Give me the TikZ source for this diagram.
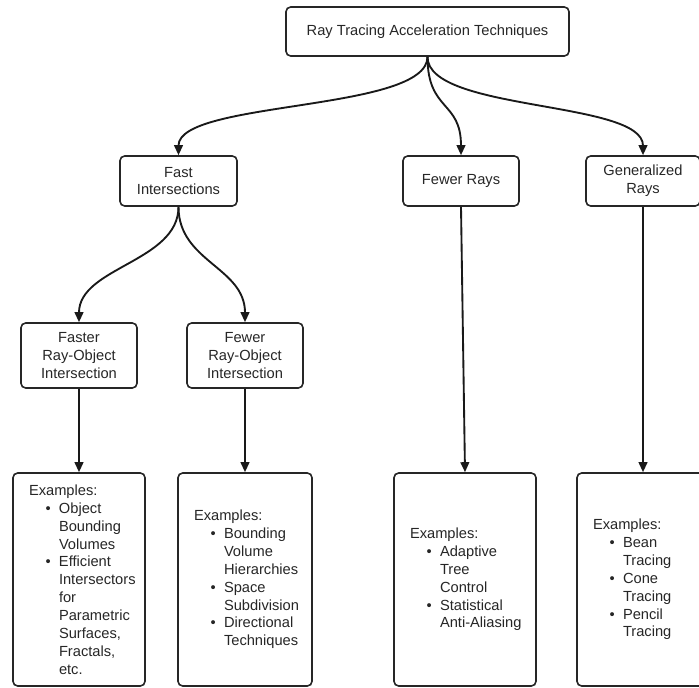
\documentclass[tikz,border=0pt]{standalone}
\usepackage{fontspec}
\setmainfont{Liberation Sans}
\usetikzlibrary{arrows.meta}

\newcommand{\bitem}[1]{\hspace*{12.5pt}\makebox[10pt][l]{\textbullet}\mbox{#1}}
\newcommand{\bnext}[1]{\hspace*{22.5pt}\mbox{#1}}

\begin{document}
\begin{tikzpicture}[x=0.75pt, y=-0.75pt,
  box/.style={draw=black!85, line width=1.2pt, rounded corners=3.5pt, align=center,
    text=black!85, font=\fontsize{11}{13.4}\selectfont, inner sep=2pt},
  exbox/.style={box, align=left, inner xsep=12pt, minimum height=159.75pt},
  arr/.style={line width=1.4pt, draw=black!90, -{Triangle[length=7.5pt,width=6.5pt]}}]

\useasboundingbox (0,0) rectangle (699,688);
\clip (0,0) rectangle (699,688);

% Top level
\node[box, minimum width=212.25pt, minimum height=36.75pt] (root) at (427.5,31.5) {Ray Tracing Acceleration Techniques};

% Second level
\node[box, minimum width=87.75pt, minimum height=37.5pt] (fast) at (178.5,181) {Fast\\Intersections};
\node[box, minimum width=87pt, minimum height=37.5pt] (fewrays) at (461,181) {Fewer Rays};
\node[box, minimum width=85.5pt, minimum height=37.5pt] (genrays) at (643,181) {Generalized\\Rays};

% Third level
\node[box, minimum width=87pt, minimum height=48.75pt] (fasterro) at (79,355.5) {Faster\\Ray-Object\\Intersection};
\node[box, minimum width=87pt, minimum height=48.75pt] (fewerro) at (245,355.5) {Fewer\\Ray-Object\\Intersection};

% Examples
\node[exbox, text width=75pt] (ex1) at (79,579.5) {Examples:\\
  \bitem{Object}\\ \bnext{Bounding}\\ \bnext{Volumes}\\
  \bitem{Efficient}\\ \bnext{Intersectors}\\ \bnext{for}\\ \bnext{Parametric}\\
  \bnext{Surfaces,}\\ \bnext{Fractals,}\\ \bnext{etc.}};
\node[exbox, text width=76.5pt] (ex2) at (245,579.5) {Examples:\\
  \bitem{Bounding}\\ \bnext{Volume}\\ \bnext{Hierarchies}\\
  \bitem{Space}\\ \bnext{Subdivision}\\
  \bitem{Directional}\\ \bnext{Techniques}};
\node[exbox, text width=82.5pt] (ex3) at (465,579.5) {Examples:\\
  \bitem{Adaptive}\\ \bnext{Tree}\\ \bnext{Control}\\
  \bitem{Statistical}\\ \bnext{Anti-Aliasing}};
\node[exbox, text width=75pt] (ex4) at (643,579.5) {Examples:\\
  \bitem{Bean}\\ \bnext{Tracing}\\
  \bitem{Cone}\\ \bnext{Tracing}\\
  \bitem{Pencil}\\ \bnext{Tracing}};

% Curved connections
\foreach \a/\b in {root/fast, root/fewrays, root/genrays, fast/fasterro, fast/fewerro}
  \draw[arr] (\a.south) .. controls +(0,55) and +(0,-55) .. (\b.north);

% Straight connections
\foreach \a/\b in {fasterro/ex1, fewerro/ex2, fewrays/ex3, genrays/ex4}
  \draw[arr] (\a.south) -- (\b.north);

\end{tikzpicture}
\end{document}
